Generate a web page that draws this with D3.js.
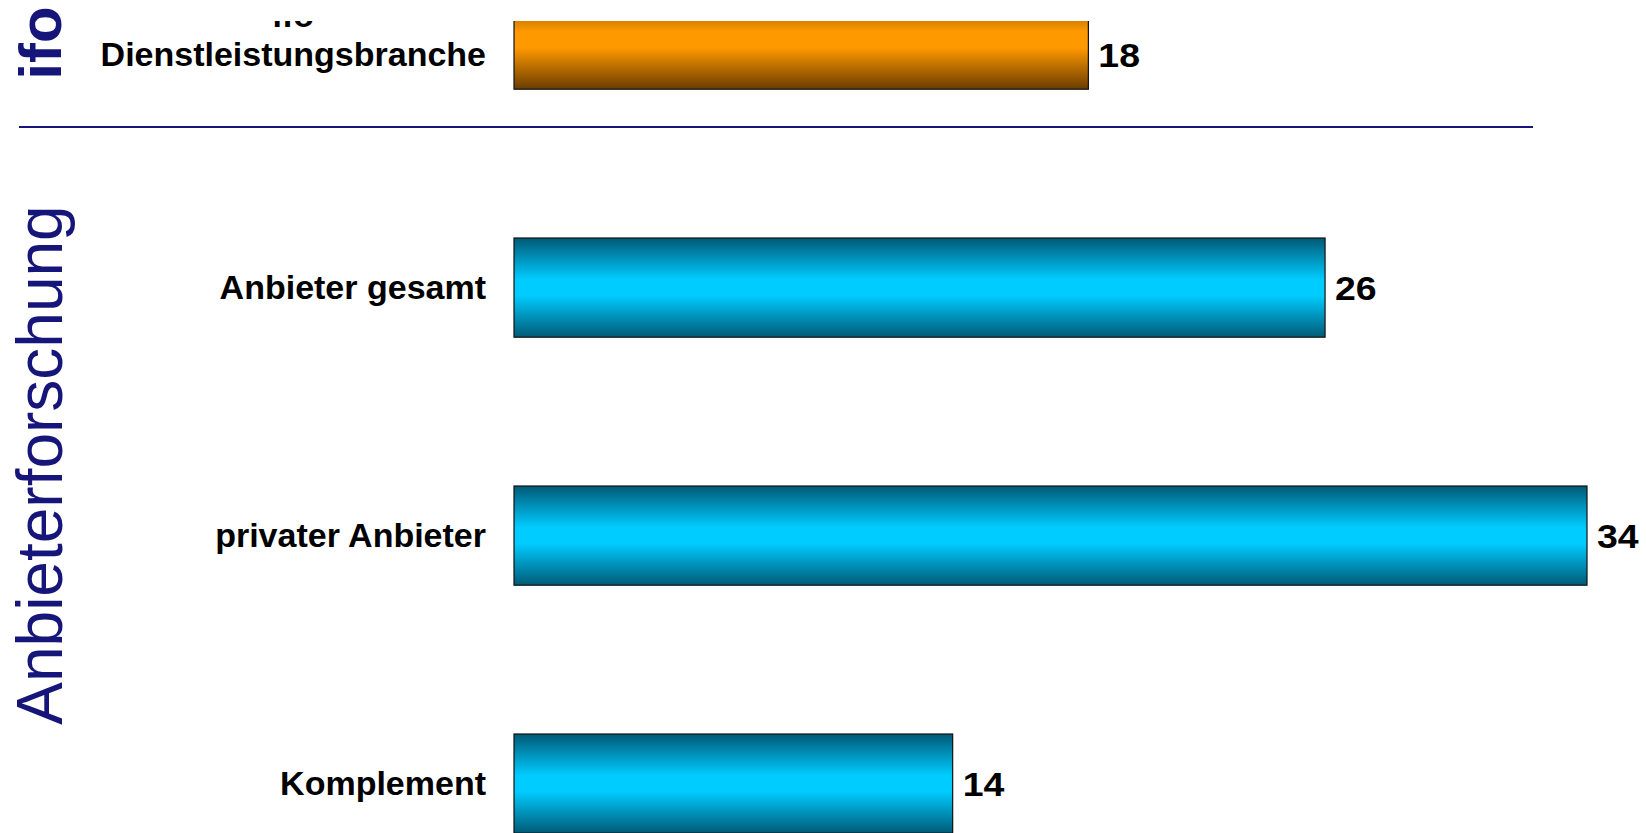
<!DOCTYPE html>
<html>
<head>
<meta charset="utf-8">
<script src="https://cdn.jsdelivr.net/npm/d3@7"></script>
<style>
  html, body { margin: 0; padding: 0; background: #fff; }
  svg { display: block; }
  .cat { font-family: "Liberation Sans", Arial, sans-serif; font-weight: bold; font-size: 34px; fill: #000; }
  .val { font-family: "Liberation Sans", Arial, sans-serif; font-weight: bold; font-size: 34px; fill: #000; }
  .side { font-family: "Liberation Sans", Arial, sans-serif; fill: #16167a; }
</style>
</head>
<body>
<div id="chart"></div>
<script>
// categories (label lines split on \n)
var CATEGORIES = ['ifo\nDienstleistungsbranche', 'Anbieter gesamt', 'privater Anbieter', 'Komplement'];
// bar values (labels show them rounded)
var VALUES = [18.2, 25.7, 34.0, 13.9];
// which gradient each bar uses
var GROUPS = ['ifo', 'anbieter', 'anbieter', 'anbieter'];

var SIDE_TOP = 'ifo';
var SIDE_MAIN = 'Anbieterforschung';

var width = 1646, height = 833;
var CUT = 21; // slide is cut off here at the top

var svg = d3.select('#chart')
  .append('svg')
    .attr('width', width)
    .attr('height', height);

var defs = svg.append('defs');

// gradients: dark - bright - dark, like the slide bars
function addGradient(id, dark, bright) {
  var g = defs.append('linearGradient')
    .attr('id', id)
    .attr('x1', 0).attr('y1', 0).attr('x2', 0).attr('y2', 1);
  g.append('stop').attr('offset', '0%').attr('stop-color', dark);
  g.append('stop').attr('offset', '42%').attr('stop-color', bright);
  g.append('stop').attr('offset', '58%').attr('stop-color', bright);
  g.append('stop').attr('offset', '100%').attr('stop-color', dark);
}
addGradient('grad-ifo', '#6a3c00', '#ff9900');
addGradient('grad-anbieter', '#005a76', '#00ccff');

defs.append('clipPath').attr('id', 'cut')
  .append('rect')
    .attr('x', 0).attr('y', CUT)
    .attr('width', width).attr('height', height - CUT);

var x = d3.scaleLinear().domain([0, 34]).range([514, 1587]);
var y = d3.scaleBand()
  .domain(CATEGORIES)
  .range([-84.4, 907.6])
  .paddingInner(0.6)
  .paddingOuter(0.3);

// middle of the part of a bar that is still visible
function midY(d) {
  var top = Math.max(y(d.cat), CUT);
  return (top + y(d.cat) + y.bandwidth()) / 2;
}

var chart = svg.append('g').attr('clip-path', 'url(#cut)');

var data = CATEGORIES.map(function(c, i) {
  return { cat: c, value: VALUES[i], group: GROUPS[i] };
});

// bars
chart.selectAll('rect.bar')
  .data(data)
  .enter().append('rect')
    .attr('class', 'bar')
    .attr('x', x(0))
    .attr('y', function(d) { return y(d.cat); })
    .attr('width', function(d) { return x(d.value) - x(0); })
    .attr('height', y.bandwidth())
    .attr('fill', function(d) { return 'url(#grad-' + d.group + ')'; })
    .attr('stroke', '#111')
    .attr('stroke-width', 1.2);

// value labels (slightly wide digits as on the slide)
chart.selectAll('text.val')
  .data(data)
  .enter().append('text')
    .attr('class', 'val')
    .attr('transform', function(d) {
      return 'translate(' + (x(d.value) + 10) + ',' + midY(d) + ') scale(1.1,1)';
    })
    .attr('dy', '0.35em')
    .text(function(d) { return d3.format('.0f')(d.value); });

// category labels, multi-line ones centred on their longest line
var lineGap = 39;
chart.selectAll('g.cat')
  .data(data)
  .enter().append('g')
    .attr('class', 'catg')
    .each(function(d) {
      var lines = d.cat.split('\n');
      var cy = midY(d);
      var g = d3.select(this);
      var texts = lines.map(function(l, i) {
        return g.append('text')
          .attr('class', 'cat')
          .attr('text-anchor', 'end')
          .attr('x', 486)
          .attr('y', cy - (lines.length - 1 - i) * lineGap)
          .attr('dy', '0.33em')
          .text(l);
      });
      var lens = texts.map(function(t) { return t.node().getComputedTextLength(); });
      var maxLen = d3.max(lens);
      texts.forEach(function(t, i) {
        t.attr('x', 486 - (maxLen - lens[i]) / 2);
      });
    });

// divider between ifo and the Anbieter block
svg.append('line')
  .attr('x1', 19).attr('x2', 1533)
  .attr('y1', 127).attr('y2', 127)
  .attr('stroke', '#16167a')
  .attr('stroke-width', 2);

// side titles
svg.append('text')
  .attr('class', 'side')
  .attr('transform', 'translate(61,43) rotate(-90)')
  .attr('text-anchor', 'middle')
  .style('font-weight', 'bold')
  .style('font-size', '60px')
  .text(SIDE_TOP);

svg.append('text')
  .attr('class', 'side')
  .attr('transform', 'translate(62,465) rotate(-90)')
  .attr('text-anchor', 'middle')
  .style('font-size', '64px')
  .text(SIDE_MAIN);
</script>
</body>
</html>
